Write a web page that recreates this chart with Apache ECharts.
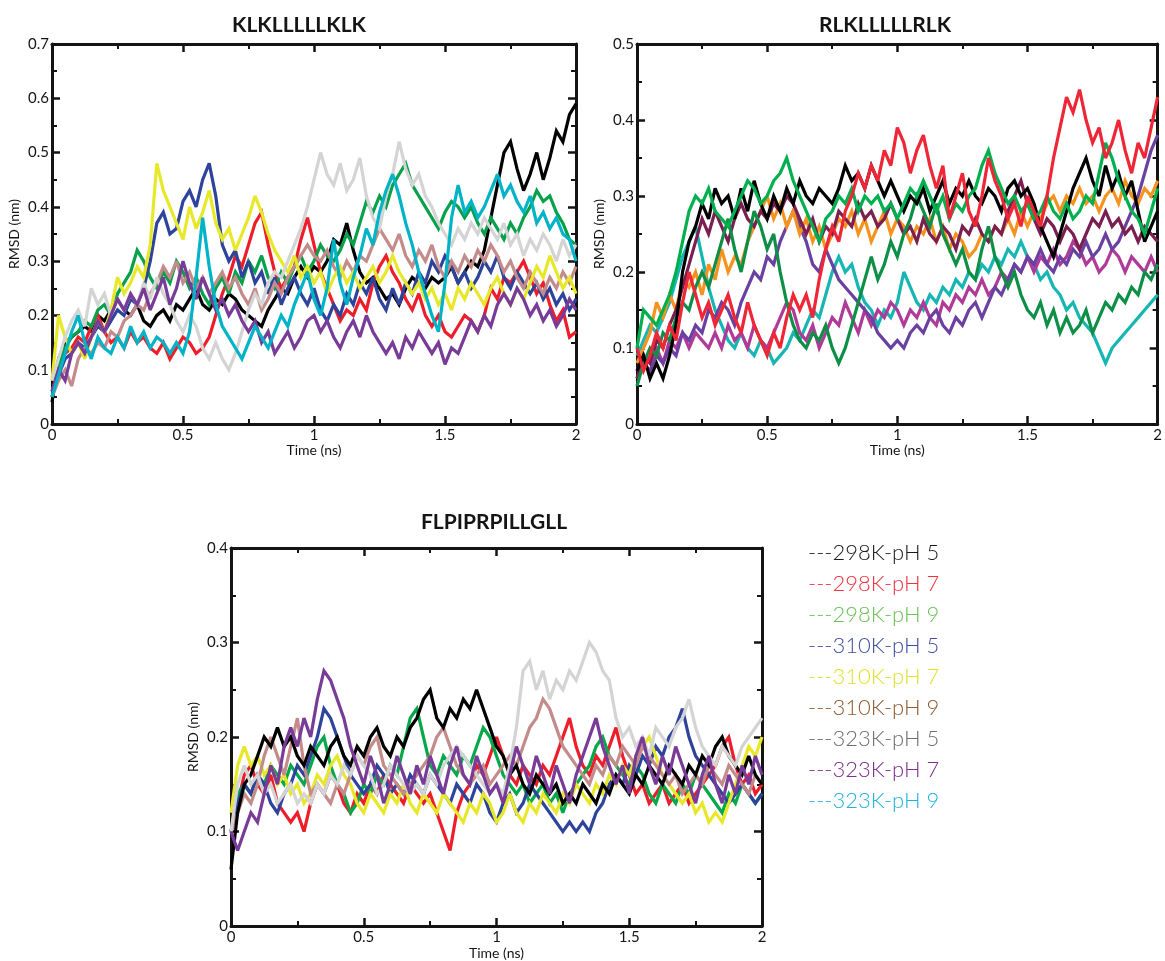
<!DOCTYPE html>
<html>
<head>
<meta charset="utf-8">
<script src="https://cdn.jsdelivr.net/npm/echarts@6/dist/echarts.min.js"></script>
<style>
  html, body { margin: 0; padding: 0; background: #fff; }
  #chart { width: 1165px; height: 961px; }
</style>
</head>
<body>
<div id="chart"></div>
<script>
// time axis (ns)
const time = [0,0.025,0.05,0.075,0.1,0.125,0.15,0.175,0.2,0.225,0.25,0.275,0.3,0.325,0.35,0.375,0.4,0.425,0.45,0.475,
  0.5,0.525,0.55,0.575,0.6,0.625,0.65,0.675,0.7,0.725,0.75,0.775,0.8,0.825,0.85,0.875,0.9,0.925,0.95,0.975,
  1,1.025,1.05,1.075,1.1,1.125,1.15,1.175,1.2,1.225,1.25,1.275,1.3,1.325,1.35,1.375,1.4,1.425,1.45,1.475,
  1.5,1.525,1.55,1.575,1.6,1.625,1.65,1.675,1.7,1.725,1.75,1.775,1.8,1.825,1.85,1.875,1.9,1.925,1.95,1.975,2];

const legendNames = ['298K-pH 5','298K-pH 7','298K-pH 9','310K-pH 5','310K-pH 7','310K-pH 9','323K-pH 5','323K-pH 7','323K-pH 9'];
const legendColors = ['#1a1a1a','#ee3340','#6cc15a','#3d4fa3','#e3e030','#8e5a30','#6f6f6f','#7c2f8c','#1fb4dc'];

// ---- KLKLLLLLKLK (RMSD, nm)
const klk298pH5 = [0.04,0.12,0.15,0.16,0.17,0.18,0.17,0.2,0.19,0.21,
  0.23,0.21,0.2,0.22,0.19,0.18,0.2,0.21,0.19,0.22,
  0.21,0.23,0.25,0.22,0.21,0.23,0.22,0.24,0.23,0.21,
  0.2,0.19,0.18,0.21,0.23,0.25,0.24,0.27,0.29,0.27,
  0.29,0.28,0.3,0.34,0.33,0.37,0.32,0.28,0.26,0.27,
  0.25,0.23,0.24,0.22,0.25,0.27,0.26,0.25,0.27,0.26,
  0.27,0.29,0.26,0.28,0.3,0.29,0.32,0.38,0.44,0.5,
  0.52,0.47,0.43,0.46,0.5,0.45,0.49,0.54,0.52,0.57,
  0.59];
const klk298pH7 = [0.06,0.1,0.13,0.14,0.16,0.15,0.18,0.2,0.17,0.15,
  0.16,0.14,0.17,0.15,0.16,0.14,0.13,0.15,0.12,0.14,
  0.16,0.15,0.13,0.14,0.16,0.2,0.24,0.27,0.31,0.29,
  0.33,0.37,0.39,0.33,0.28,0.25,0.27,0.29,0.34,0.38,
  0.33,0.28,0.25,0.22,0.19,0.21,0.2,0.23,0.21,0.26,
  0.29,0.31,0.28,0.26,0.23,0.21,0.24,0.2,0.18,0.2,
  0.17,0.16,0.18,0.2,0.19,0.17,0.2,0.25,0.23,0.27,
  0.26,0.28,0.3,0.27,0.24,0.26,0.22,0.19,0.21,0.16,
  0.17];
const klk298pH9 = [0.05,0.11,0.14,0.16,0.17,0.19,0.18,0.21,0.22,0.2,
  0.24,0.26,0.28,0.32,0.3,0.27,0.25,0.28,0.26,0.3,
  0.28,0.25,0.27,0.24,0.22,0.25,0.27,0.24,0.28,0.26,
  0.3,0.28,0.31,0.27,0.25,0.28,0.26,0.29,0.31,0.28,
  0.3,0.33,0.31,0.3,0.32,0.35,0.33,0.37,0.41,0.39,
  0.42,0.4,0.44,0.46,0.48,0.44,0.42,0.4,0.38,0.36,
  0.39,0.41,0.4,0.38,0.4,0.37,0.35,0.38,0.36,0.34,
  0.37,0.35,0.38,0.4,0.43,0.41,0.42,0.39,0.37,0.34,
  0.33];
const klk310pH5 = [0.05,0.09,0.12,0.13,0.15,0.14,0.16,0.18,0.17,0.19,
  0.21,0.2,0.23,0.22,0.25,0.3,0.37,0.39,0.35,0.36,
  0.41,0.43,0.4,0.45,0.48,0.42,0.33,0.3,0.32,0.27,
  0.3,0.26,0.28,0.24,0.27,0.22,0.25,0.27,0.24,0.22,
  0.25,0.21,0.19,0.22,0.2,0.24,0.22,0.26,0.24,0.27,
  0.23,0.21,0.25,0.22,0.26,0.24,0.28,0.26,0.3,0.28,
  0.31,0.29,0.26,0.28,0.25,0.27,0.3,0.28,0.31,0.27,
  0.25,0.28,0.26,0.24,0.26,0.23,0.25,0.22,0.24,0.21,
  0.23];
const klk310pH7 = [0.08,0.2,0.16,0.13,0.15,0.12,0.16,0.19,0.17,0.21,
  0.27,0.24,0.26,0.29,0.27,0.33,0.48,0.43,0.4,0.37,
  0.34,0.4,0.36,0.39,0.43,0.37,0.34,0.36,0.32,0.35,
  0.38,0.42,0.39,0.35,0.32,0.3,0.28,0.31,0.27,0.29,
  0.26,0.28,0.24,0.27,0.29,0.26,0.28,0.25,0.27,0.29,
  0.26,0.28,0.31,0.28,0.26,0.24,0.26,0.23,0.25,0.22,
  0.24,0.21,0.25,0.23,0.26,0.24,0.22,0.25,0.27,0.24,
  0.22,0.25,0.23,0.26,0.29,0.27,0.31,0.28,0.25,0.27,
  0.24];
const klk310pH9 = [0.05,0.08,0.1,0.07,0.12,0.14,0.13,0.15,0.14,0.17,
  0.16,0.19,0.2,0.22,0.21,0.24,0.26,0.29,0.27,0.3,
  0.26,0.28,0.25,0.27,0.24,0.26,0.28,0.25,0.27,0.24,
  0.22,0.25,0.21,0.23,0.26,0.24,0.27,0.29,0.31,0.33,
  0.31,0.3,0.32,0.29,0.27,0.3,0.28,0.31,0.3,0.33,
  0.36,0.34,0.32,0.35,0.31,0.29,0.32,0.3,0.33,0.29,
  0.27,0.3,0.28,0.31,0.29,0.32,0.3,0.33,0.31,0.28,
  0.3,0.27,0.25,0.28,0.26,0.24,0.27,0.25,0.28,0.26,
  0.29];
const klk323pH5 = [0.08,0.12,0.16,0.19,0.21,0.18,0.25,0.22,0.24,0.2,
  0.23,0.21,0.24,0.22,0.26,0.23,0.27,0.24,0.22,0.19,
  0.17,0.2,0.18,0.14,0.12,0.15,0.12,0.1,0.13,0.17,
  0.21,0.24,0.22,0.26,0.28,0.27,0.3,0.33,0.36,0.4,
  0.45,0.5,0.46,0.44,0.48,0.43,0.45,0.49,0.42,0.38,
  0.36,0.42,0.46,0.52,0.47,0.44,0.46,0.42,0.4,0.37,
  0.35,0.33,0.36,0.34,0.37,0.35,0.38,0.36,0.34,0.37,
  0.33,0.35,0.31,0.34,0.32,0.35,0.33,0.3,0.34,0.31,
  0.33];
const klk323pH7 = [0.06,0.1,0.08,0.13,0.15,0.13,0.16,0.19,0.17,0.2,
  0.23,0.21,0.24,0.22,0.25,0.21,0.24,0.27,0.22,0.25,
  0.3,0.26,0.23,0.27,0.24,0.21,0.23,0.2,0.22,0.19,
  0.17,0.19,0.15,0.17,0.13,0.15,0.17,0.14,0.16,0.19,
  0.2,0.17,0.19,0.16,0.14,0.17,0.19,0.16,0.2,0.17,
  0.15,0.13,0.15,0.12,0.16,0.14,0.17,0.15,0.13,0.15,
  0.11,0.14,0.13,0.16,0.19,0.17,0.2,0.18,0.22,0.24,
  0.22,0.25,0.23,0.2,0.22,0.19,0.21,0.18,0.2,0.23,
  0.21];
const klk323pH9 = [0.05,0.09,0.13,0.17,0.2,0.15,0.12,0.16,0.14,0.13,
  0.16,0.14,0.18,0.15,0.17,0.14,0.16,0.15,0.13,0.15,
  0.13,0.17,0.27,0.38,0.29,0.22,0.18,0.16,0.14,0.12,
  0.15,0.18,0.16,0.14,0.17,0.2,0.18,0.22,0.25,0.28,
  0.23,0.2,0.25,0.34,0.26,0.22,0.27,0.31,0.36,0.33,
  0.39,0.43,0.46,0.42,0.37,0.33,0.28,0.24,0.2,0.17,
  0.26,0.38,0.44,0.39,0.41,0.38,0.4,0.43,0.46,0.42,
  0.44,0.41,0.39,0.42,0.37,0.39,0.36,0.38,0.35,0.34,
  0.3];

// ---- RLKLLLLLRLK
const rlk298pH5 = [0.07,0.09,0.06,0.08,0.06,0.09,0.13,0.2,0.24,0.26,
  0.29,0.27,0.31,0.29,0.3,0.27,0.31,0.28,0.32,0.29,
  0.27,0.3,0.28,0.31,0.29,0.32,0.3,0.29,0.31,0.3,
  0.29,0.31,0.34,0.32,0.33,0.31,0.34,0.32,0.3,0.32,
  0.3,0.28,0.3,0.29,0.31,0.28,0.3,0.32,0.29,0.31,
  0.3,0.32,0.3,0.29,0.31,0.3,0.28,0.31,0.32,0.3,
  0.31,0.29,0.26,0.24,0.22,0.25,0.28,0.31,0.33,0.35,
  0.32,0.3,0.34,0.31,0.33,0.3,0.32,0.28,0.24,0.26,
  0.28];
const rlk298pH7 = [0.1,0.07,0.09,0.12,0.1,0.13,0.11,0.16,0.2,0.17,
  0.14,0.16,0.13,0.15,0.17,0.14,0.12,0.16,0.13,0.11,
  0.09,0.12,0.1,0.14,0.17,0.15,0.17,0.14,0.19,0.23,
  0.26,0.24,0.28,0.3,0.33,0.31,0.34,0.32,0.36,0.34,
  0.39,0.37,0.33,0.36,0.38,0.34,0.31,0.34,0.27,0.3,
  0.33,0.28,0.26,0.3,0.35,0.32,0.3,0.27,0.29,0.26,
  0.3,0.28,0.26,0.3,0.35,0.39,0.43,0.41,0.44,0.4,
  0.37,0.39,0.35,0.37,0.4,0.36,0.33,0.37,0.35,0.39,
  0.43];
const rlk298pH9 = [0.1,0.15,0.14,0.13,0.15,0.17,0.2,0.24,0.28,0.3,
  0.29,0.31,0.28,0.27,0.26,0.28,0.3,0.32,0.31,0.29,
  0.3,0.32,0.33,0.35,0.32,0.3,0.28,0.26,0.24,0.27,
  0.28,0.3,0.29,0.31,0.28,0.3,0.29,0.3,0.28,0.29,
  0.27,0.29,0.31,0.3,0.32,0.3,0.28,0.3,0.27,0.29,
  0.28,0.3,0.31,0.34,0.36,0.33,0.31,0.29,0.3,0.28,
  0.29,0.27,0.28,0.3,0.28,0.27,0.29,0.27,0.28,0.3,
  0.29,0.33,0.37,0.35,0.32,0.3,0.28,0.27,0.25,0.28,
  0.31];
const rlk310pH5 = [0.05,0.08,0.1,0.09,0.12,0.11,0.14,0.16,0.15,0.18,
  0.2,0.18,0.21,0.24,0.27,0.23,0.2,0.24,0.28,0.26,
  0.23,0.25,0.2,0.16,0.13,0.11,0.1,0.12,0.11,0.13,
  0.1,0.08,0.1,0.13,0.16,0.19,0.22,0.19,0.21,0.24,
  0.22,0.25,0.27,0.3,0.28,0.26,0.29,0.25,0.23,0.21,
  0.23,0.2,0.19,0.23,0.26,0.22,0.2,0.18,0.2,0.17,
  0.15,0.14,0.16,0.13,0.15,0.12,0.14,0.12,0.13,0.15,
  0.12,0.14,0.16,0.15,0.17,0.16,0.18,0.17,0.2,0.19,
  0.21];
const rlk310pH7 = [0.08,0.1,0.12,0.16,0.14,0.17,0.15,0.19,0.18,0.2,
  0.17,0.21,0.19,0.23,0.2,0.22,0.21,0.24,0.26,0.28,
  0.3,0.27,0.29,0.26,0.28,0.25,0.27,0.24,0.26,0.23,
  0.25,0.27,0.26,0.28,0.25,0.27,0.24,0.26,0.28,0.25,
  0.27,0.26,0.24,0.26,0.25,0.27,0.24,0.26,0.23,0.25,
  0.24,0.22,0.23,0.25,0.24,0.26,0.25,0.27,0.25,0.28,
  0.26,0.28,0.27,0.29,0.3,0.28,0.3,0.29,0.31,0.29,
  0.3,0.28,0.3,0.31,0.29,0.32,0.3,0.29,0.31,0.3,
  0.32];
const rlk310pH9 = [0.06,0.09,0.08,0.11,0.1,0.13,0.15,0.18,0.21,0.24,
  0.27,0.25,0.28,0.26,0.24,0.27,0.29,0.27,0.26,0.28,
  0.27,0.29,0.28,0.3,0.29,0.27,0.25,0.27,0.24,0.26,
  0.25,0.28,0.27,0.26,0.29,0.27,0.28,0.26,0.27,0.29,
  0.27,0.25,0.26,0.24,0.27,0.25,0.24,0.26,0.25,0.23,
  0.26,0.25,0.27,0.25,0.24,0.26,0.25,0.28,0.3,0.32,
  0.29,0.27,0.25,0.27,0.26,0.24,0.26,0.25,0.23,0.25,
  0.27,0.26,0.28,0.26,0.27,0.25,0.26,0.24,0.26,0.25,
  0.24];
const rlk323pH5 = [0.07,0.09,0.08,0.1,0.08,0.11,0.1,0.12,0.1,0.12,
  0.11,0.1,0.12,0.1,0.13,0.11,0.12,0.1,0.13,0.11,
  0.1,0.12,0.14,0.16,0.15,0.12,0.11,0.13,0.1,0.12,
  0.14,0.13,0.16,0.14,0.12,0.15,0.13,0.15,0.14,0.16,
  0.15,0.13,0.15,0.14,0.16,0.14,0.13,0.16,0.15,0.17,
  0.16,0.18,0.17,0.19,0.17,0.18,0.2,0.19,0.21,0.2,
  0.22,0.2,0.22,0.21,0.23,0.21,0.22,0.24,0.23,0.21,
  0.22,0.2,0.21,0.23,0.22,0.2,0.22,0.21,0.2,0.22,
  0.2];
const rlk323pH7 = [0.06,0.08,0.07,0.09,0.08,0.1,0.09,0.12,0.11,0.13,
  0.12,0.15,0.14,0.16,0.15,0.13,0.16,0.18,0.2,0.19,
  0.22,0.21,0.24,0.26,0.28,0.26,0.24,0.21,0.2,0.23,
  0.21,0.19,0.18,0.17,0.16,0.15,0.14,0.12,0.11,0.1,
  0.11,0.1,0.12,0.13,0.12,0.14,0.15,0.13,0.12,0.14,
  0.13,0.15,0.16,0.14,0.16,0.18,0.17,0.19,0.21,0.2,
  0.22,0.21,0.23,0.21,0.2,0.22,0.21,0.23,0.22,0.24,
  0.22,0.23,0.25,0.23,0.24,0.26,0.28,0.3,0.33,0.36,
  0.38];
const rlk323pH9 = [0.09,0.11,0.13,0.12,0.14,0.16,0.19,0.22,0.24,0.26,
  0.22,0.18,0.15,0.13,0.11,0.1,0.12,0.1,0.09,0.11,
  0.1,0.08,0.09,0.1,0.12,0.11,0.13,0.15,0.14,0.17,
  0.2,0.22,0.2,0.21,0.18,0.16,0.15,0.13,0.15,0.14,
  0.16,0.2,0.18,0.16,0.15,0.17,0.16,0.18,0.17,0.19,
  0.18,0.2,0.19,0.21,0.2,0.22,0.21,0.23,0.22,0.24,
  0.22,0.21,0.19,0.2,0.18,0.17,0.15,0.16,0.14,0.13,
  0.12,0.1,0.08,0.1,0.11,0.12,0.13,0.14,0.15,0.16,
  0.17];

// ---- FLPIPRPILLGLL
const flp298pH5 = [0.06,0.12,0.15,0.16,0.18,0.2,0.19,0.21,0.19,0.2,
  0.18,0.17,0.19,0.18,0.17,0.19,0.2,0.18,0.17,0.19,
  0.18,0.2,0.21,0.19,0.18,0.2,0.19,0.21,0.22,0.24,
  0.25,0.22,0.21,0.23,0.22,0.24,0.23,0.25,0.23,0.21,
  0.19,0.18,0.16,0.17,0.15,0.14,0.16,0.15,0.14,0.15,
  0.13,0.14,0.13,0.15,0.14,0.13,0.15,0.14,0.16,0.15,
  0.14,0.16,0.15,0.17,0.16,0.15,0.17,0.16,0.15,0.17,
  0.16,0.18,0.17,0.19,0.2,0.18,0.17,0.16,0.18,0.16,
  0.15];
const flp298pH7 = [0.1,0.13,0.16,0.17,0.15,0.14,0.16,0.13,0.12,0.11,
  0.12,0.1,0.13,0.15,0.14,0.16,0.15,0.13,0.12,0.14,
  0.13,0.15,0.14,0.16,0.15,0.14,0.13,0.15,0.14,0.13,
  0.14,0.12,0.1,0.08,0.12,0.14,0.15,0.17,0.16,0.18,
  0.2,0.18,0.16,0.15,0.17,0.16,0.15,0.17,0.16,0.18,
  0.2,0.22,0.19,0.17,0.16,0.18,0.17,0.19,0.21,0.18,
  0.16,0.14,0.15,0.13,0.14,0.15,0.13,0.14,0.15,0.13,
  0.14,0.15,0.16,0.17,0.19,0.2,0.17,0.15,0.16,0.14,
  0.15];
const flp298pH9 = [0.1,0.14,0.15,0.14,0.16,0.15,0.17,0.16,0.15,0.17,
  0.16,0.15,0.17,0.19,0.2,0.17,0.15,0.14,0.12,0.13,
  0.15,0.14,0.16,0.15,0.17,0.16,0.19,0.22,0.23,0.2,
  0.17,0.16,0.18,0.17,0.16,0.18,0.17,0.19,0.21,0.2,
  0.18,0.16,0.15,0.14,0.15,0.13,0.14,0.15,0.13,0.14,
  0.12,0.14,0.15,0.16,0.17,0.19,0.2,0.18,0.17,0.16,
  0.15,0.17,0.16,0.14,0.13,0.15,0.14,0.13,0.15,0.14,
  0.16,0.15,0.14,0.13,0.12,0.14,0.13,0.15,0.14,0.13,
  0.14];
const flp310pH5 = [0.1,0.13,0.15,0.14,0.16,0.15,0.13,0.12,0.14,0.15,
  0.17,0.16,0.18,0.2,0.23,0.22,0.2,0.18,0.16,0.15,
  0.14,0.15,0.17,0.16,0.14,0.15,0.14,0.16,0.15,0.14,
  0.16,0.15,0.14,0.13,0.15,0.14,0.13,0.15,0.14,0.12,
  0.11,0.13,0.14,0.12,0.13,0.15,0.14,0.13,0.12,0.11,
  0.1,0.11,0.1,0.11,0.1,0.12,0.13,0.15,0.16,0.15,
  0.17,0.16,0.18,0.17,0.19,0.18,0.2,0.21,0.23,0.2,
  0.18,0.17,0.16,0.15,0.14,0.13,0.14,0.15,0.14,0.13,
  0.14];
const flp310pH7 = [0.12,0.17,0.19,0.17,0.18,0.16,0.17,0.15,0.16,0.14,
  0.15,0.13,0.14,0.16,0.15,0.17,0.18,0.16,0.15,0.13,
  0.12,0.14,0.13,0.12,0.14,0.13,0.15,0.13,0.12,0.14,
  0.13,0.12,0.14,0.13,0.12,0.11,0.13,0.12,0.14,0.13,
  0.11,0.12,0.14,0.12,0.11,0.13,0.12,0.14,0.13,0.12,
  0.14,0.13,0.15,0.14,0.13,0.15,0.14,0.16,0.15,0.17,
  0.16,0.18,0.19,0.2,0.18,0.16,0.15,0.14,0.13,0.14,
  0.12,0.13,0.11,0.12,0.11,0.13,0.15,0.17,0.19,0.18,
  0.2];
const flp310pH9 = [0.1,0.12,0.14,0.13,0.15,0.18,0.2,0.18,0.16,0.19,
  0.22,0.17,0.14,0.15,0.14,0.13,0.15,0.14,0.16,0.18,
  0.17,0.19,0.2,0.17,0.16,0.15,0.14,0.15,0.16,0.17,
  0.18,0.2,0.21,0.19,0.17,0.16,0.15,0.16,0.17,0.15,
  0.16,0.17,0.18,0.17,0.19,0.21,0.22,0.24,0.23,0.21,
  0.19,0.18,0.17,0.16,0.15,0.17,0.16,0.18,0.17,0.19,
  0.18,0.17,0.19,0.18,0.17,0.16,0.15,0.16,0.14,0.15,
  0.16,0.15,0.17,0.16,0.15,0.17,0.16,0.15,0.14,0.16,
  0.15];
const flp323pH5 = [0.1,0.15,0.17,0.15,0.16,0.14,0.15,0.13,0.14,0.15,
  0.13,0.14,0.13,0.15,0.14,0.16,0.15,0.17,0.16,0.18,
  0.17,0.16,0.14,0.15,0.17,0.16,0.15,0.14,0.15,0.14,
  0.16,0.15,0.17,0.18,0.19,0.18,0.17,0.16,0.15,0.14,
  0.15,0.14,0.17,0.21,0.27,0.28,0.25,0.27,0.24,0.26,
  0.25,0.27,0.26,0.28,0.3,0.29,0.27,0.26,0.22,0.2,
  0.21,0.19,0.2,0.18,0.21,0.2,0.19,0.21,0.22,0.24,
  0.21,0.19,0.18,0.17,0.19,0.18,0.17,0.19,0.2,0.21,
  0.22];
const flp323pH7 = [0.1,0.08,0.1,0.12,0.11,0.14,0.17,0.15,0.19,0.21,
  0.19,0.22,0.2,0.24,0.27,0.26,0.24,0.22,0.19,0.17,
  0.15,0.18,0.16,0.13,0.15,0.18,0.16,0.14,0.17,0.15,
  0.18,0.16,0.14,0.17,0.19,0.16,0.15,0.18,0.16,0.14,
  0.15,0.13,0.16,0.19,0.17,0.15,0.18,0.16,0.14,0.17,
  0.15,0.13,0.16,0.18,0.2,0.22,0.19,0.17,0.15,0.17,
  0.14,0.18,0.2,0.17,0.15,0.18,0.16,0.19,0.17,0.15,
  0.13,0.16,0.18,0.15,0.13,0.16,0.14,0.17,0.15,0.18,
  0.16];

const chart = echarts.init(document.getElementById('chart'), null, { renderer: 'canvas' });

const FONT = 'Lato, "Open Sans", sans-serif';
const INK = '#141414';

function pairs(vals) {
  return time.map((t, i) => [t, vals[i]]);
}

function line(name, vals, color, gi) {
  return {
    name: name,
    type: 'line',
    xAxisIndex: gi * 2,
    yAxisIndex: gi * 2,
    data: pairs(vals),
    showSymbol: false,
    symbol: 'none',
    lineStyle: { color: color, width: 3.2, join: 'miter', miterLimit: 3 },
    itemStyle: { color: color },
    emphasis: { disabled: true },
    animation: false
  };
}

function xPair(gi) {
  const tick = { inside: true, length: 8, lineStyle: { color: INK, width: 2.5 } };
  const minor = { show: true, splitNumber: 2, length: 5, lineStyle: { color: INK, width: 2 } };
  const axisLine = { show: true, onZero: false, lineStyle: { color: INK, width: 3 } };
  return [
    {
      gridIndex: gi, type: 'value', position: 'bottom', min: 0, max: 2, interval: 0.5,
      axisLine: axisLine, axisTick: tick, minorTick: minor, splitLine: { show: false },
      axisLabel: { color: INK, fontFamily: FONT, fontSize: 15, margin: 4 },
      name: 'Time (ns)', nameLocation: 'middle', nameGap: 19,
      nameTextStyle: { color: INK, fontFamily: FONT, fontSize: 14 }
    },
    {
      gridIndex: gi, type: 'value', position: 'top', min: 0, max: 2, interval: 0.5,
      axisLine: axisLine, axisTick: tick, minorTick: minor, splitLine: { show: false },
      axisLabel: { show: false }
    }
  ];
}

function yPair(gi, max) {
  const tick = { inside: true, length: 8, lineStyle: { color: INK, width: 2.5 } };
  const minor = { show: true, splitNumber: 2, length: 5, lineStyle: { color: INK, width: 2 } };
  const axisLine = { show: true, onZero: false, lineStyle: { color: INK, width: 3 } };
  return [
    {
      gridIndex: gi, type: 'value', position: 'left', min: 0, max: max, interval: 0.1,
      axisLine: axisLine, axisTick: tick, minorTick: minor, splitLine: { show: false },
      axisLabel: { color: INK, fontFamily: FONT, fontSize: 15, margin: 3 },
      name: 'RMSD (nm)', nameLocation: 'middle', nameGap: 31, nameRotate: 90,
      nameTextStyle: { color: INK, fontFamily: FONT, fontSize: 14 }
    },
    {
      gridIndex: gi, type: 'value', position: 'right', min: 0, max: max, interval: 0.1,
      axisLine: axisLine, axisTick: tick, minorTick: minor, splitLine: { show: false },
      axisLabel: { show: false }
    }
  ];
}

const N = legendNames;
const series = [
  // KLKLLLLLKLK
  line(N[0], klk298pH5, '#000000', 0),
  line(N[1], klk298pH7, '#ee1d2a', 0),
  line(N[2], klk298pH9, '#06a14a', 0),
  line(N[3], klk310pH5, '#2d439c', 0),
  line(N[5], klk310pH9, '#c48b8b', 0),
  line(N[4], klk310pH7, '#e8e82a', 0),
  line(N[6], klk323pH5, '#d4d4d4', 0),
  line(N[7], klk323pH7, '#783c98', 0),
  line(N[8], klk323pH9, '#00b3c6', 0),
  // RLKLLLLLRLK
  line(N[8], rlk323pH9, '#17b6b3', 1),
  line(N[6], rlk323pH5, '#b03a98', 1),
  line(N[7], rlk323pH7, '#6a40a0', 1),
  line(N[4], rlk310pH7, '#f6921e', 1),
  line(N[5], rlk310pH9, '#7a1f4f', 1),
  line(N[3], rlk310pH5, '#0d8f48', 1),
  line(N[0], rlk298pH5, '#000000', 1),
  line(N[2], rlk298pH9, '#00b04f', 1),
  line(N[1], rlk298pH7, '#ee2636', 1),
  // FLPIPRPILLGLL
  line(N[1], flp298pH7, '#ee1d2a', 2),
  line(N[2], flp298pH9, '#06a84a', 2),
  line(N[3], flp310pH5, '#2d439c', 2),
  line(N[4], flp310pH7, '#e8e82a', 2),
  line(N[5], flp310pH9, '#c48b8b', 2),
  line(N[0], flp298pH5, '#000000', 2),
  line(N[6], flp323pH5, '#d4d4d4', 2),
  line(N[7], flp323pH7, '#783c98', 2)
];

const titleStyle = { color: INK, fontFamily: FONT, fontSize: 21, fontWeight: 'bold' };

const option = {
  backgroundColor: '#ffffff',
  animation: false,
  title: [
    { text: 'KLKLLLLLKLK', left: 294, top: 10, textAlign: 'center', textStyle: titleStyle },
    { text: 'RLKLLLLLRLK', left: 880, top: 10, textAlign: 'center', textStyle: titleStyle },
    { text: 'FLPIPRPILLGLL', left: 489, top: 507, textAlign: 'center', textStyle: titleStyle }
  ],
  grid: [
    { left: 52, top: 44, width: 524, height: 380 },
    { left: 637, top: 44, width: 524, height: 380 },
    { left: 231, top: 548, width: 531, height: 380 }
  ],
  xAxis: [].concat(xPair(0), xPair(1), xPair(2)),
  yAxis: [].concat(yPair(0, 0.7), yPair(1, 0.5), yPair(2, 0.4)),
  legend: {
    orient: 'vertical',
    left: 798,
    top: 536,
    icon: 'none',
    itemWidth: 0,
    itemGap: 7,
    selectedMode: false,
    formatter: function (n) { return '---' + n; },
    textStyle: { fontFamily: FONT, fontWeight: 300, fontSize: 22, lineHeight: 24 },
    data: legendNames.map(function (n, i) {
      return { name: n, textStyle: { color: legendColors[i] } };
    })
  },
  series: series
};

chart.setOption(option);
</script>
</body>
</html>
